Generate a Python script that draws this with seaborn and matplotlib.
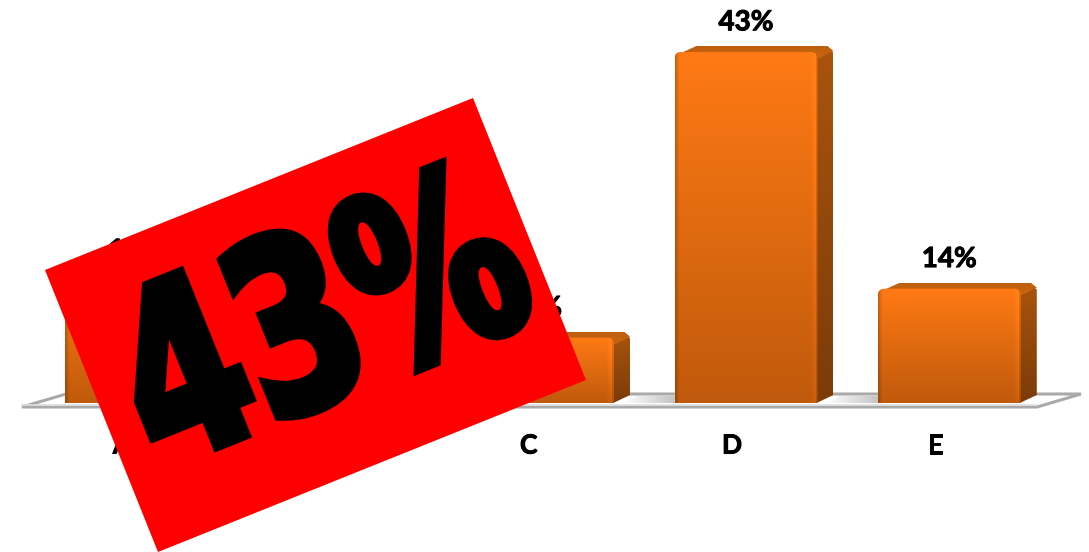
import numpy as np
import pandas as pd
import matplotlib
matplotlib.use("Agg")
import matplotlib.pyplot as plt
import matplotlib.patheffects as pe
from matplotlib.colors import to_rgb
from matplotlib.font_manager import FontProperties
from matplotlib.patches import Polygon
from matplotlib.text import Text
from matplotlib.textpath import TextPath
from matplotlib.transforms import Affine2D, IdentityTransform, ScaledTranslation
import seaborn as sns

# Survey shares per answer option
categories = ["A", "B", "C", "D", "E"]
shares = [15, 20, 8, 43, 14]
stamp_text = "43%"

sns.set_theme(style="white")
plt.rcParams["font.family"] = ["Lato", "DejaVu Sans"]

W, H = 1089, 552
BASE_PX = 403
fig = plt.figure(figsize=(W / 100, H / 100), dpi=100, facecolor="white")
ax = fig.add_axes([0, (H - BASE_PX) / H, 1, BASE_PX / H])

df = pd.DataFrame({"category": categories, "share": shares})
sns.barplot(data=df, x="category", y="share", color="#e86c10", width=0.703, ax=ax, zorder=2)

XLIM = (-0.669, 4.687)
YLIM = (0, 49.37)
ax.set_xlim(*XLIM)
ax.set_ylim(*YLIM)
ax.set_xlabel("")
ax.set_ylabel("")
ax.set_yticks([])
sns.despine(ax=ax, left=True, bottom=True)
ax.patch.set_alpha(0)

# Pixel coordinates with the origin in the top-left corner
to_px = Affine2D().scale(1, -1).translate(0, H)


class CondensedText(Text):
    """Text squeezed into a box, for a condensed display face no installed font offers."""

    def __init__(self, cx, cy, s, box, angle, stroke, **kwargs):
        super().__init__(cx, cy, s, **kwargs)
        self.box, self.angle, self.stroke = box, angle, stroke

    def _outline(self):
        raw = TextPath((0, 0), self.get_text(), size=100, prop=self.get_fontproperties())
        ext = raw.get_extents()
        cx, cy = self.get_transform().transform(self.get_position())
        return (Affine2D()
                .translate(-(ext.x0 + ext.x1) / 2, -(ext.y0 + ext.y1) / 2)
                .scale(self.box[0] / ext.width, self.box[1] / ext.height)
                .rotate_deg(self.angle)
                .translate(cx, cy)).transform_path(raw)

    def get_window_extent(self, renderer=None, dpi=None):
        return self._outline().get_extents()

    def draw(self, renderer):
        gc = renderer.new_gc()
        gc.set_foreground(self.get_color())
        gc.set_linewidth(self.stroke)
        gc.set_joinstyle("miter")
        renderer.draw_path(gc, self._outline(), IdentityTransform(), rgbFace=to_rgb(self.get_color()))
        gc.restore()


def rounded_top(x0, x1, y0, y1, r=6, n=6):
    """Outline of a rectangle whose two upper corners are rounded."""
    t = np.linspace(0, np.pi / 2, n)
    left = [(x0 + r - r * np.cos(a), y0 + r - r * np.sin(a)) for a in t]
    right = [(x1 - r + r * np.sin(a), y0 + r - r * np.cos(a)) for a in t]
    return np.array([(x0, y1)] + left + right + [(x1, y1)])


def shaded(verts, image, zorder):
    """Paint an RGB array inside a polygon given in pixel coordinates."""
    verts = np.asarray(verts, float)
    l, r = verts[:, 0].min(), verts[:, 0].max()
    t, b = verts[:, 1].min(), verts[:, 1].max()
    im = ax.imshow(image, extent=(l, r, b, t), origin="upper", aspect="auto",
                   transform=to_px, zorder=zorder, interpolation="bilinear")
    im.set_clip_box(fig.bbox)
    im.set_clip_path(Polygon(verts, closed=True, transform=to_px))
    return im


def vgrad(top, bottom, rows=128):
    a, b = np.array(to_rgb(top)), np.array(to_rgb(bottom))
    f = np.linspace(0, 1, rows)[:, None, None]
    return a + (b - a) * f


def hgrad(left, right, cols=64):
    a, b = np.array(to_rgb(left)), np.array(to_rgb(right))
    f = np.linspace(0, 1, cols)[None, :, None]
    return a + (b - a) * f


# Floor plate below the bars
floor = [(22, 407), (1037, 407), (1081, 394), (66, 394)]
ax.add_patch(Polygon(floor, closed=True, transform=to_px, facecolor="white",
                     edgecolor="#a9a9a9", linewidth=2.2, zorder=1, clip_on=False,
                     joinstyle="miter"))
ax.plot([22, 1037], [405, 405], color="#dddddd", lw=1.2, transform=to_px,
        zorder=1.1, clip_on=False)

DEPTH_X, DEPTH_Y = 16, 7
for i, bar in enumerate(ax.containers[0]):
    (x0, y_bottom), (x1, y_top) = to_px.inverted().transform(
        ax.transData.transform([(bar.get_x(), 0), (bar.get_x() + bar.get_width(), bar.get_height())]))
    y0, y1 = y_top, y_bottom

    # Contact shadow on the floor, left of the bar
    if i > 0:
        shaded([(x0 - 38, y1 - 7), (x0, y1 - 7), (x0, y1), (x0 - 52, y1)],
               hgrad("#ffffff", "#c4c4c4"), 1.2)

    # Right side face
    shaded([(x1 - 1, y0 + 5), (x1 + DEPTH_X - 5, y0 - DEPTH_Y + 3), (x1 + DEPTH_X, y0 - DEPTH_Y + 8),
            (x1 + DEPTH_X, y1 - DEPTH_Y - 1), (x1 - 1, y1)],
           vgrad("#a9540d", "#7c3b08"), 2.1)

    # Top face
    shaded([(x0 + 2, y0 + 3), (x0 + 22, y0 - DEPTH_Y + 1), (x1 + DEPTH_X - 6, y0 - DEPTH_Y + 1),
            (x1 + DEPTH_X, y0 - DEPTH_Y + 6), (x1 + 2, y0 + 6)],
           vgrad("#bd5f10", "#c9650f", rows=16), 2.2)

    # Front face: vertical light falloff, darker left rim, bright right rim
    outline = rounded_top(x0, x1, y0, y1)
    h, w = max(int(y1 - y0), 2), int(x1 - x0)
    front = vgrad("#ff7a14", "#c05a0c", rows=h).repeat(w, axis=1)
    rim = np.ones(w)
    rim[:5] = np.linspace(0.80, 1.0, 5)
    rim[-8:-2] = np.linspace(1.0, 1.08, 6)
    rim[-2:] = 0.92
    front = np.clip(front * rim[None, :, None], 0, 1)
    shaded(outline, front, 2.3)
    bar.set_clip_path(Polygon(outline, closed=True, transform=to_px))

ax.set_xlim(*XLIM)
ax.set_ylim(*YLIM)

# Value labels above each bar
heavier = [pe.withStroke(linewidth=0.7, foreground="black")]
ax.bar_label(ax.containers[0], fmt="%g%%", padding=12, fontsize=20, fontweight="bold",
             color="black", zorder=3, path_effects=heavier)

# Category labels sit slightly left of the bar centres, in line with the floor's perspective
ax.tick_params(axis="x", length=0, pad=22, labelsize=19)
shift = ScaledTranslation(-0.14, 0, fig.dpi_scale_trans)
for label in ax.get_xticklabels():
    label.set_fontweight("bold")
    label.set_color("black")
    label.set_path_effects(heavier)
    label.set_transform(label.get_transform() + shift)

# Tilted red stamp across the left half
stamp = [(45, 270), (473, 98), (586, 380), (158, 552)]
ax.add_patch(Polygon(stamp, closed=True, transform=to_px, facecolor="#ff0000",
                     edgecolor="none", zorder=10, clip_on=False))
stamp_label = CondensedText(319, 311, stamp_text, box=(402, 182), angle=21.9, stroke=7,
                            color="black", zorder=11, transform=to_px, clip_on=False,
                            fontproperties=FontProperties(family="DejaVu Sans", weight="bold"))
ax.add_artist(stamp_label)
stamp_label.set_clip_on(False)

fig.savefig("out.png", dpi=100, facecolor="white")
